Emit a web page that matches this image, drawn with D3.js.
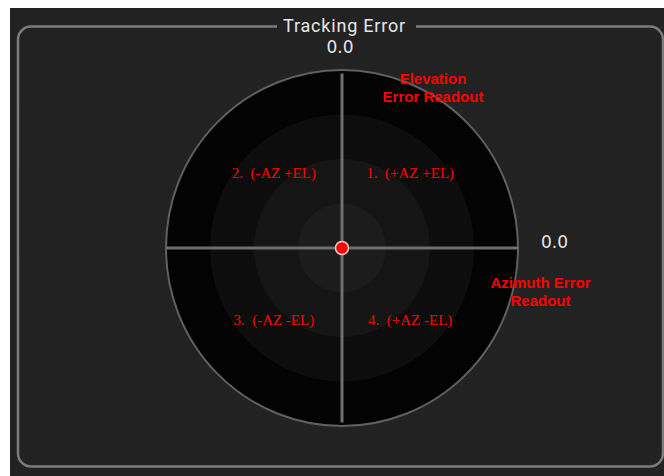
<!DOCTYPE html>
<html>
<head>
<meta charset="utf-8">
<script src="https://cdn.jsdelivr.net/npm/d3@7"></script>
<style>
  html, body { margin: 0; padding: 0; background: #ffffff; }
  svg { display: block; }
</style>
</head>
<body>
<div id="app"></div>
<script>
// tracking error readout
const azError = 0.0;
const elError = 0.0;
const ringSteps = [4, 3, 2, 1];
const ringFills = ["#030303", "#0d0d0d", "#151515", "#1c1c1c"];
const quadrantLabels = ["1.  (+AZ +EL)", "2.  (-AZ +EL)", "3.  (-AZ -EL)", "4.  (+AZ -EL)"];
const quadrantSigns = [[1, 1], [-1, 1], [-1, -1], [1, -1]];
const title = "Tracking Error";

const w = 664;
const h = 476;
const cx = 342;
const cy = 248;
const RX = 176;
const RY = 178;

var svg = d3.select("#app")
  .append("svg")
  .attr("width", w)
  .attr("height", h);

// panel
svg.append("rect")
  .attr("x", 10).attr("y", 8)
  .attr("width", w - 10).attr("height", h - 8)
  .attr("fill", "#222222");

svg.append("rect")
  .attr("x", 18).attr("y", 26.5)
  .attr("width", 645).attr("height", 440)
  .attr("rx", 13).attr("ry", 13)
  .attr("fill", "none")
  .attr("stroke", "#7c7c7c")
  .attr("stroke-width", 2.5);

// gap in border for title
svg.append("rect")
  .attr("x", 277).attr("y", 20)
  .attr("width", 139).attr("height", 14)
  .attr("fill", "#222222");

svg.append("text")
  .attr("x", 344.5).attr("y", 32)
  .attr("text-anchor", "middle")
  .attr("font-family", "Roboto, 'Noto Sans', sans-serif")
  .attr("font-size", "18px")
  .attr("letter-spacing", "0.8px")
  .attr("fill", "#e6e6e6")
  .text(title);

var x = d3.scaleLinear().domain([-4, 4]).range([cx - RX, cx + RX]);
var y = d3.scaleLinear().domain([-4, 4]).range([cy + RY, cy - RY]);
var rx = d3.scaleLinear().domain([0, 4]).range([0, RX]);
var ry = d3.scaleLinear().domain([0, 4]).range([0, RY]);

// rings
svg.selectAll("ellipse.ring")
  .data(ringSteps)
  .enter()
  .append("ellipse")
  .attr("class", "ring")
  .attr("cx", x(0))
  .attr("cy", y(0))
  .attr("rx", function (d) { return rx(d); })
  .attr("ry", function (d) { return ry(d); })
  .attr("fill", function (d, i) { return ringFills[i]; })
  .attr("stroke", function (d, i) { return i == 0 ? "#606060" : "none"; })
  .attr("stroke-width", 2);

// crosshair
svg.append("line")
  .attr("x1", x(-4)).attr("x2", x(4))
  .attr("y1", y(0)).attr("y2", y(0))
  .attr("stroke", "#6e6e6e").attr("stroke-width", 3);

svg.append("line")
  .attr("x1", x(0)).attr("x2", x(0))
  .attr("y1", y(3.92)).attr("y2", y(-3.92))
  .attr("stroke", "#6e6e6e").attr("stroke-width", 3);

// quadrant labels
svg.selectAll("text.quad")
  .data(quadrantLabels)
  .enter()
  .append("text")
  .attr("class", "quad")
  .attr("x", function (d, i) { return x(quadrantSigns[i][0] * 1.55); })
  .attr("y", function (d, i) { return y(quadrantSigns[i][1] * 1.65) + 3.5; })
  .attr("text-anchor", "middle")
  .attr("font-family", "'Liberation Serif', 'Times New Roman', serif")
  .attr("font-size", "15px")
  .attr("fill", "#ff0000")
  .style("white-space", "pre")
  .text(function (d) { return d; });

// readouts
svg.append("text")
  .attr("x", 340).attr("y", 52.5)
  .attr("text-anchor", "middle")
  .attr("font-family", "'DejaVu Sans', sans-serif")
  .attr("font-size", "17px")
  .attr("fill", "#e6e6e6")
  .text(elError.toFixed(1));

svg.append("text")
  .attr("x", 554.5).attr("y", 248)
  .attr("text-anchor", "middle")
  .attr("font-family", "'DejaVu Sans', sans-serif")
  .attr("font-size", "17px")
  .attr("fill", "#e6e6e6")
  .text(azError.toFixed(1));

var notes = [
  { lines: ["Elevation", "Error Readout"], x: 433, y: 83.5 },
  { lines: ["Azimuth Error", "Readout"], x: 540.5, y: 288 }
];
notes.forEach(function (n) {
  var t = svg.append("text")
    .attr("x", n.x).attr("y", n.y)
    .attr("text-anchor", "middle")
    .attr("font-family", "'Liberation Sans', Arial, sans-serif")
    .attr("font-weight", "bold")
    .attr("font-size", "15px")
    .attr("fill", "#ff0000");
  n.lines.forEach(function (s, i) {
    t.append("tspan").attr("x", n.x).attr("dy", i == 0 ? 0 : 18).text(s);
  });
});

// error point
svg.append("circle")
  .attr("cx", x(azError))
  .attr("cy", y(elError))
  .attr("r", 6.5)
  .attr("fill", "#ff0000")
  .attr("stroke", "#e9c9c9")
  .attr("stroke-width", 1.5);
</script>
</body>
</html>
